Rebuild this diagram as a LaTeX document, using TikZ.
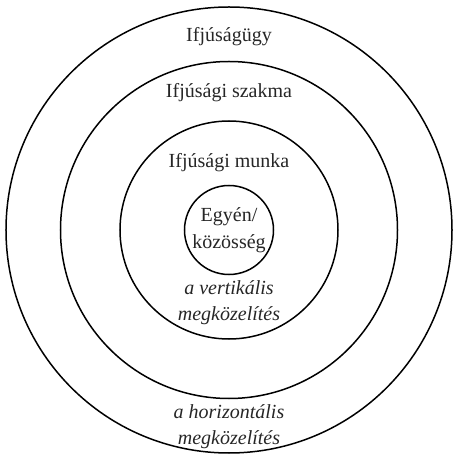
\documentclass[tikz,border=0pt]{standalone}
\usepackage{fontspec}
\setmainfont{Liberation Serif}
\begin{document}
\begin{tikzpicture}[x=1pt,y=1pt,
    ring/.style={draw,circle,line width=1.5pt,inner sep=0pt},
    lbl/.style={font=\fontsize{20}{27}\selectfont,align=center,text=black!85},
    approach/.style={lbl,font=\fontsize{20}{26}\selectfont\itshape}]
  \useasboundingbox (-229,-224) rectangle (223,230);

  \node [ring,minimum size=446pt] (youthaffairs) at (0,0) {};
  \node [ring,minimum size=337pt] (profession) at (0,0) {};
  \node [ring,minimum size=218pt] (youthwork) at (0,0) {};
  \node [ring,minimum size=89pt,lbl] (individual) at (0,0) {Egyén/\\közösség};

  \node [lbl] (affairs) at (0,193) {Ifjúságügy};
  \node [lbl] (prof) at (0,137) {Ifjúsági szakma};
  \node [lbl] (work) at (0,67) {Ifjúsági munka};

  %% approaches
  \node [approach] (vertical) at (0,-73) {a vertikális\\megközelítés};
  \node [approach] (horizontal) at (0,-197) {a horizontális\\megközelítés};

\end{tikzpicture}
\end{document}
